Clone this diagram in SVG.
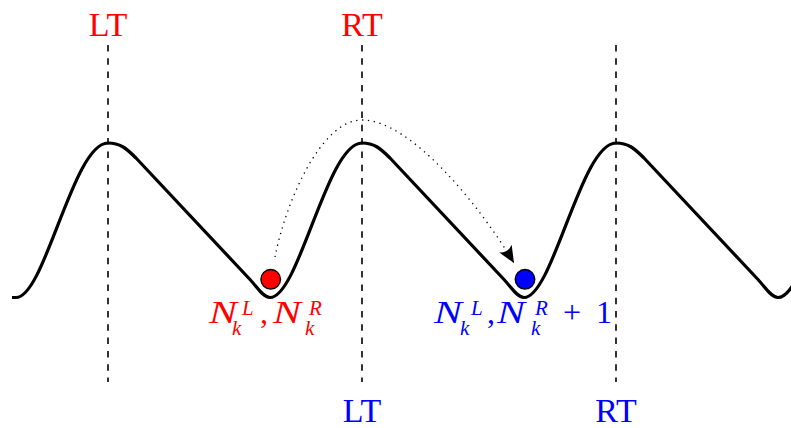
<svg xmlns="http://www.w3.org/2000/svg" width="791" height="428" viewBox="0 0 791 428">
<style>
.curve{fill:none;stroke:#000;stroke-width:3.2;stroke-linejoin:round}
.dash{fill:none;stroke:#000;stroke-width:1.6;stroke-dasharray:6.5 6.8}
.dot{fill:none;stroke:#000;stroke-width:1.3;stroke-dasharray:1.3 4.6}
.rm{font-family:"Liberation Serif","DejaVu Serif",serif;font-size:34px;text-anchor:middle}
.mi{font-family:"Liberation Serif","DejaVu Serif",serif;font-style:italic;font-size:32px}
.ms{font-family:"Liberation Serif","DejaVu Serif",serif;font-style:italic;font-size:21px}
.mr{font-family:"Liberation Serif","DejaVu Serif",serif;font-size:32px}
.red{fill:#ff0000}
.blue{fill:#0000ff}
.ball{stroke:#000;stroke-width:1.4}
</style>
<defs>
<marker id="ah" markerUnits="userSpaceOnUse" markerWidth="20" markerHeight="20" viewBox="-17 -8 19 16" refX="0" refY="0" orient="auto">
<path d="M0,0 L-16,-7 Q-11,0 -16,7 Z" fill="#000"/>
</marker>
</defs>
<g id="guides">
<line class="dash" x1="108" y1="45" x2="108" y2="382"/>
<line class="dash" x1="362" y1="45" x2="362" y2="382"/>
<line class="dash" x1="616" y1="45" x2="616" y2="382"/>
</g>
<g id="landscape">
<path class="curve" d="M 12 297.5 L 16 297.5 C 45 297.5 73 143 108 143 C 120 143 126 148 136 158 L 250 279.5 C 257 287 263 297.5 270 297.5 C 299 297.5 327 143 362 143 C 374 143 380 148 390 158 L 504 279.5 C 511 287 517 297.5 524 297.5 C 553 297.5 581 143 616 143 C 628 143 634 148 644 158 L 758 279.5 C 765 287 771 297.5 778 297.5 C 807 297.5 835 143 870 143"/>
</g>
<g id="connectors">
<path class="dot" d="M 275 257 C 285 205 320 120 362 120 C 410 120 478 203 514 263" marker-end="url(#ah)"/>
</g>
<g id="ball-red">
<circle class="ball" cx="270.7" cy="279.3" r="9.8" fill="#ff0000"/>
</g>
<g id="ball-blue">
<circle class="ball" cx="525" cy="279.3" r="9.8" fill="#0000ff"/>
</g>
<g id="label-top">
<text class="rm red" x="108" y="36">LT</text>
<text class="rm red" x="362" y="36">RT</text>
</g>
<g id="label-bottom">
<text class="rm blue" x="362" y="422">LT</text>
<text class="rm blue" x="616" y="422">RT</text>
</g>
<g id="label-red" class="red">
<text class="mi" x="209" y="323" textLength="28" lengthAdjust="spacingAndGlyphs">N</text>
<text class="ms" x="242" y="315">L</text>
<text class="ms" x="232" y="335">k</text>
<text class="mr" x="260" y="323">,</text>
<text class="mi" x="273" y="323" textLength="28" lengthAdjust="spacingAndGlyphs">N</text>
<text class="ms" x="309" y="315">R</text>
<text class="ms" x="305" y="335">k</text>
</g>
<g id="label-blue" class="blue">
<text class="mi" x="434" y="323" textLength="28" lengthAdjust="spacingAndGlyphs">N</text>
<text class="ms" x="471" y="315">L</text>
<text class="ms" x="460" y="335">k</text>
<text class="mr" x="487" y="323">,</text>
<text class="mi" x="497" y="323" textLength="28" lengthAdjust="spacingAndGlyphs">N</text>
<text class="ms" x="535" y="315">R</text>
<text class="ms" x="531" y="335">k</text>
<text class="mr" x="563" y="323">+</text>
<text class="mr" x="596" y="323">1</text>
</g>
</svg>
